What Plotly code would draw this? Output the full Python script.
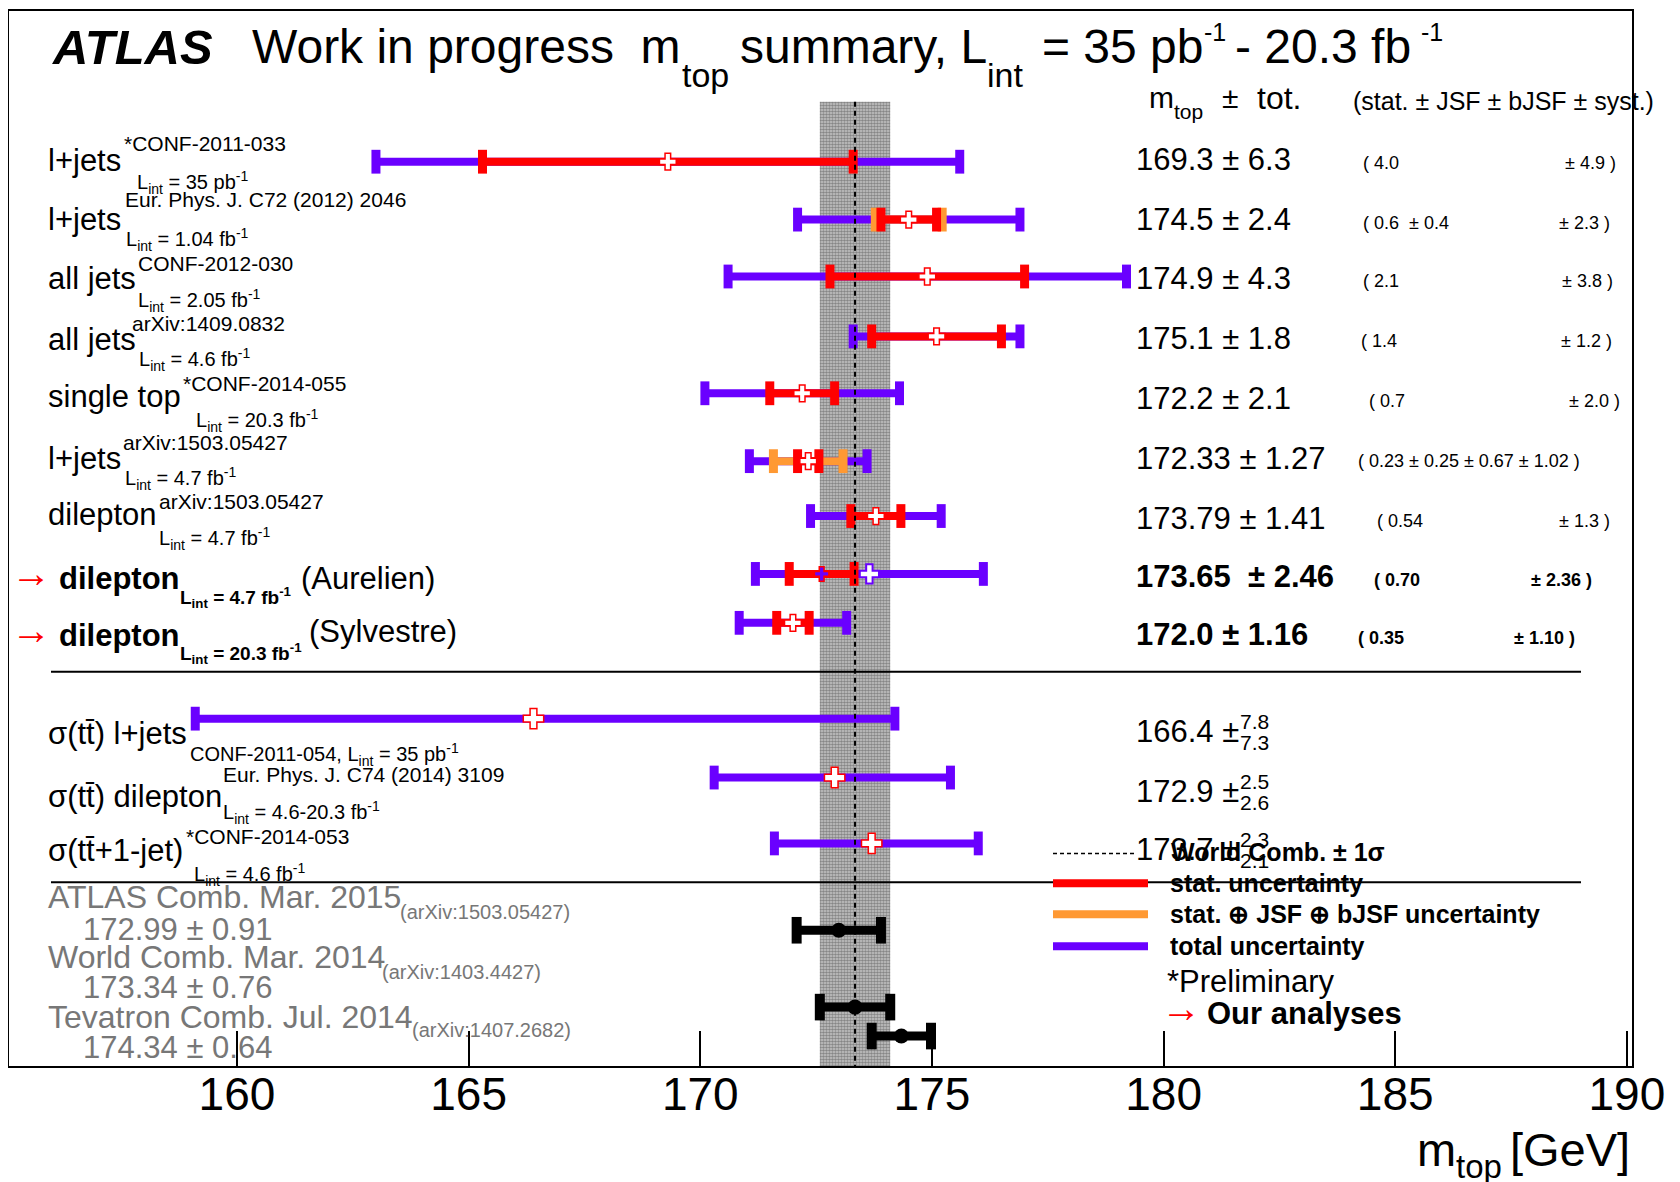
import math
import plotly.graph_objects as go

# ------------------------------------------------------------------ data
# individual top-mass measurements (GeV)
meas_label = ["l+jets", "l+jets", "all jets", "all jets", "single top",
              "l+jets", "dilepton", "dilepton", "dilepton"]
meas_ref = ["*CONF-2011-033", "Eur. Phys. J. C72 (2012) 2046", "CONF-2012-030",
            "arXiv:1409.0832", "*CONF-2014-055", "arXiv:1503.05427",
            "arXiv:1503.05427", "", ""]
meas_lumi = ["35 pb", "1.04 fb", "2.05 fb", "4.6 fb", "20.3 fb",
             "4.7 fb", "4.7 fb", "4.7 fb", "20.3 fb"]
meas_author = ["", "", "", "", "", "", "", "(Aurelien)", "(Sylvestre)"]
meas_ours = [False, False, False, False, False, False, False, True, True]
meas_mtop = [169.3, 174.5, 174.9, 175.1, 172.2, 172.33, 173.79, 173.65, 172.0]
meas_tot = [6.3, 2.4, 4.3, 1.8, 2.1, 1.27, 1.41, 2.46, 1.16]
meas_stat = [4.0, 0.6, 2.1, 1.4, 0.7, 0.23, 0.54, 0.70, 0.35]
meas_jsf = [None, 0.4, None, None, None, 0.25, None, None, None]
meas_bjsf = [None, None, None, None, None, 0.67, None, None, None]
meas_syst = [4.9, 2.3, 3.8, 1.2, 2.0, 1.02, 1.3, 2.36, 1.10]
# centre of the stat. bar as drawn in the original (row 8 is drawn off-centre)
meas_stat_centre = [169.3, 174.5, 174.9, 175.1, 172.2, 172.33, 173.79, 172.62, 172.0]
meas_value_text = ["169.3 ± 6.3", "174.5 ± 2.4", "174.9 ± 4.3", "175.1 ± 1.8",
                   "172.2 ± 2.1", "172.33 ± 1.27", "173.79 ± 1.41",
                   "173.65\u00a0 ± 2.46", "172.0 ± 1.16"]
meas_detail_left = ["( 4.0", "( 0.6\u00a0 ± 0.4", "( 2.1", "( 1.4", "( 0.7",
                    "( 0.23 ± 0.25 ± 0.67 ± 1.02 )", "( 0.54", "( 0.70", "( 0.35"]
meas_detail_right = ["± 4.9 )", "± 2.3 )", "± 3.8 )", "± 1.2 )", "± 2.0 )", "",
                     "± 1.3 )", "± 2.36 )", "± 1.10 )"]

# cross-section based extractions
xsec_label = ["σ(tt\u0304) l+jets", "σ(tt\u0304) dilepton", "σ(tt\u0304+1-jet)"]
xsec_ref = ["", "Eur. Phys. J. C74 (2014) 3109", "*CONF-2014-053"]
xsec_sub = ["CONF-2011-054, L<sub>int</sub> = 35 pb<sup>-1</sup>",
            "L<sub>int</sub> = 4.6-20.3 fb<sup>-1</sup>",
            "L<sub>int</sub> = 4.6 fb<sup>-1</sup>"]
xsec_mtop = [166.4, 172.9, 173.7]
xsec_up = [7.8, 2.5, 2.3]
xsec_dn = [7.3, 2.6, 2.1]

# combinations
comb_name = ["ATLAS Comb. Mar. 2015", "World Comb. Mar. 2014", "Tevatron Comb. Jul. 2014"]
comb_ref = ["(arXiv:1503.05427)", "(arXiv:1403.4427)", "(arXiv:1407.2682)"]
comb_mtop = [172.99, 173.34, 174.34]
comb_err = [0.91, 0.76, 0.64]
world_index = 1

x_ticks = [160, 165, 170, 175, 180, 185, 190]
x_tick_labels = ["160", "165", "170", "175", "180", "185", "190"]

# ------------------------------------------------------------------ layout
# All positions below are screen pixels of the 1680x1182 page; the page body
# has an 8 px margin, so the figure itself is shifted by OFF.
OFF = 8
W, H = 1680 - OFF, 1182 - OFF
PX0, PX1, PY0, PY1 = 9, 1632, 9, 1066
X_RANGE = [155.08, 190.11]
FONT = "Liberation Sans, Arial, Helvetica, sans-serif"

PURPLE = "#6a00ff"
RED = "#ff0000"
ORANGE = "#ff9933"
GREY_TXT = "#777777"

meas_row_y = [160, 218, 275, 335, 392, 460, 515, 573, 622]
meas_label_y = [159, 218, 277, 338, 395, 457, 513, 578, 635]
meas_sup_pos = [(123, 142), (124, 198), (137, 262), (131, 322), (182, 382),
                (122, 441), (158, 500), None, None]
meas_sub_pos = [(136, 181), (125, 238), (137, 299), (138, 358), (195, 419),
                (124, 477), (158, 537), (179, 597), (179, 653)]
meas_author_pos = [None] * 7 + [(300, 578), (308, 631)]
meas_value_y = [158, 218, 277, 337, 397, 457, 517, 576, 634]
meas_detail_left_x = [1362, 1362, 1362, 1360, 1368, 1357, 1376, 1373, 1357]
meas_detail_right_x = [1617, 1611, 1614, 1613, 1621, None, 1611, 1593, 1576]

xsec_row_y = [718, 777, 843]
xsec_label_y = [733, 796, 850]
xsec_sup_pos = [None, (222, 774), (185, 836)]
xsec_sub_pos = [(189, 754), (222, 812), (193, 874)]
xsec_value_y = [731, 791, 849]

comb_row_y = [930, 1007, 1036]
comb_name_y = [897, 957, 1017]
comb_ref_x = [399, 381, 411]
comb_ref_y = [912, 972, 1030]
comb_value_y = [929, 987, 1047]

sep_y = [671, 882]
band_top = 100


def px2paper_x(x):
    return (x - PX0) / (PX1 - PX0)


def px2paper_y(y):
    return (PY1 - y) / (PY1 - PY0)


annotations = []


def txt(x, y, s, size, color="black", anchor="left", bold=False, italic=False):
    if italic:
        s = "<i>" + s + "</i>"
    if bold:
        s = "<b>" + s + "</b>"
    annotations.append(dict(x=px2paper_x(x), xref="paper", y=px2paper_y(y), yref="paper",
                            text=s, showarrow=False, xanchor=anchor, yanchor="middle",
                            borderpad=0,
                            font=dict(family=FONT, size=size, color=color)))


fig = go.Figure()

# world combination band (+-1 sigma)
wm, we = comb_mtop[world_index], comb_err[world_index]
fig.add_trace(go.Scatter(
    x=[wm - we, wm + we, wm + we, wm - we, wm - we],
    y=[band_top, band_top, PY1, PY1, band_top],
    mode="lines", fill="toself", line=dict(width=0, color="rgba(0,0,0,0)"),
    fillcolor="rgba(0,0,0,0)",
    fillpattern=dict(shape=".", size=3, solidity=0.6, fgcolor="#444444", bgcolor="#c8c8c8"),
    hoverinfo="skip", showlegend=False))


def bars(centres, lo, hi, ys, color, width=8, cap=17, capw=9):
    xs, yy = [], []
    for c, l, h, y in zip(centres, lo, hi, ys):
        xs += [c - l, c + h, None]
        yy += [y, y, None]
    return go.Scatter(x=xs, y=yy, mode="lines+markers",
                      line=dict(color=color, width=width),
                      marker=dict(symbol="line-ns", size=cap, color=color,
                                  line=dict(color=color, width=capw)),
                      hoverinfo="skip", showlegend=False)


# total uncertainty (purple)
fig.add_trace(bars(meas_mtop + xsec_mtop, meas_tot + xsec_dn, meas_tot + xsec_up,
                   meas_row_y + xsec_row_y, PURPLE))

# stat + JSF + bJSF (orange)
oc, oe, oy = [], [], []
for i in range(len(meas_mtop)):
    if meas_jsf[i] is not None:
        comps = [meas_stat[i], meas_jsf[i]] + ([meas_bjsf[i]] if meas_bjsf[i] is not None else [])
        oc.append(meas_mtop[i])
        oe.append(math.sqrt(sum(v * v for v in comps)))
        oy.append(meas_row_y[i])
fig.add_trace(bars(oc, oe, oe, oy, ORANGE))

# stat (red)
fig.add_trace(bars(meas_stat_centre, meas_stat, meas_stat, meas_row_y, RED))

# markers
norm_x = [m for m, o in zip(meas_mtop, meas_ours) if not o] + [meas_mtop[8]]
norm_y = [y for y, o in zip(meas_row_y, meas_ours) if not o] + [meas_row_y[8]]
fig.add_trace(go.Scatter(x=norm_x, y=norm_y, mode="markers",
                         marker=dict(symbol="cross", size=14, color="white",
                                     line=dict(color=RED, width=1.5)),
                         hoverinfo="skip", showlegend=False))
fig.add_trace(go.Scatter(x=[meas_stat_centre[7]], y=[meas_row_y[7]], mode="markers",
                         marker=dict(symbol="cross", size=12, color=PURPLE,
                                     line=dict(color=RED, width=1.5)),
                         hoverinfo="skip", showlegend=False))
fig.add_trace(go.Scatter(x=[meas_mtop[7]], y=[meas_row_y[7]], mode="markers",
                         marker=dict(symbol="cross", size=16, color="white",
                                     line=dict(color=PURPLE, width=2)),
                         hoverinfo="skip", showlegend=False))
fig.add_trace(go.Scatter(x=xsec_mtop, y=xsec_row_y, mode="markers",
                         marker=dict(symbol="cross", size=17, color="white",
                                     line=dict(color=RED, width=1.5)),
                         hoverinfo="skip", showlegend=False))

# combinations (black)
fig.add_trace(bars(comb_mtop, comb_err, comb_err, comb_row_y, "black", width=9, cap=19, capw=10))
fig.add_trace(go.Scatter(x=comb_mtop, y=comb_row_y, mode="markers",
                         marker=dict(symbol="circle", size=15, color="black"),
                         hoverinfo="skip", showlegend=False))

# ------------------------------------------------------------------ shapes
shapes = []
shapes.append(dict(type="line", xref="x", yref="y", x0=wm, x1=wm, y0=band_top, y1=PY1,
                   line=dict(color="black", width=2, dash="5px,4px")))
for sy in sep_y:
    shapes.append(dict(type="line", xref="paper", yref="y", x0=px2paper_x(51), x1=px2paper_x(1581),
                       y0=sy, y1=sy, line=dict(color="black", width=2)))

# legend samples
leg_x0, leg_x1 = 1053, 1148
shapes.append(dict(type="line", xref="paper", yref="y", x0=px2paper_x(leg_x0), x1=px2paper_x(1134),
                   y0=853, y1=853, line=dict(color="black", width=1.5, dash="4px,3px")))
for ly, col in [(883, RED), (914, ORANGE), (946, PURPLE)]:
    shapes.append(dict(type="line", xref="paper", yref="y", x0=px2paper_x(leg_x0), x1=px2paper_x(leg_x1),
                       y0=ly, y1=ly, line=dict(color=col, width=8)))

# ------------------------------------------------------------------ texts
# title
txt(51, 45, "ATLAS", 49, bold=True, italic=True)
txt(251, 45, "Work in progress\u00a0 m", 48)
txt(681, 73, "top", 34)
txt(739, 45, "summary, L", 48)
txt(986, 73, "int", 34)
txt(1041, 45, "= 35 pb", 48)
txt(1203, 30, "-1", 25)
txt(1234, 45, "- 20.3 fb", 48)
txt(1420, 30, "-1", 25)

# column header
txt(1148, 96, "m", 30)
txt(1173, 110, "top", 21)
txt(1221, 96, "±", 30)
txt(1256, 96, "tot.", 32)
txt(1352, 99, "(stat. ± JSF ± bJSF ± syst.)", 25)

# measurement rows
for i in range(len(meas_mtop)):
    if meas_ours[i]:
        txt(10, meas_label_y[i] - 6, "→", 40, color=RED)
        txt(58, meas_label_y[i], meas_label[i], 31, bold=True)
        txt(meas_sub_pos[i][0], meas_sub_pos[i][1],
            "L<sub>int</sub> = " + meas_lumi[i] + "<sup>-1</sup>", 19, bold=True)
        txt(meas_author_pos[i][0], meas_author_pos[i][1], meas_author[i], 31)
    else:
        txt(47, meas_label_y[i], meas_label[i], 31)
        txt(meas_sup_pos[i][0], meas_sup_pos[i][1], meas_ref[i], 21)
        txt(meas_sub_pos[i][0], meas_sub_pos[i][1],
            "L<sub>int</sub> = " + meas_lumi[i] + "<sup>-1</sup>", 20)
    txt(1135, meas_value_y[i], meas_value_text[i], 31, bold=meas_ours[i])
    txt(meas_detail_left_x[i], meas_value_y[i] + 3, meas_detail_left[i], 18, bold=meas_ours[i])
    if meas_detail_right_x[i] is not None:
        txt(meas_detail_right_x[i], meas_value_y[i] + 3, meas_detail_right[i], 18,
            anchor="right", bold=meas_ours[i])

# cross-section rows
for i in range(len(xsec_mtop)):
    txt(47, xsec_label_y[i], xsec_label[i], 31)
    if xsec_sup_pos[i] is not None:
        txt(xsec_sup_pos[i][0], xsec_sup_pos[i][1], xsec_ref[i], 21)
    txt(xsec_sub_pos[i][0], xsec_sub_pos[i][1], xsec_sub[i], 20)
    txt(1135, xsec_value_y[i], f"{xsec_mtop[i]:.1f} ±", 31)
    txt(1239, xsec_value_y[i] - 10, f"{xsec_up[i]:.1f}", 21)
    txt(1239, xsec_value_y[i] + 11, f"{xsec_dn[i]:.1f}", 21)

# combinations
for i in range(len(comb_mtop)):
    txt(47, comb_name_y[i], comb_name[i], 32, color=GREY_TXT)
    txt(comb_ref_x[i], comb_ref_y[i], comb_ref[i], 20, color=GREY_TXT)
    txt(82, comb_value_y[i], f"{comb_mtop[i]:.2f} ± {comb_err[i]:.2f}", 31, color=GREY_TXT)

# legend texts
txt(1170, 852, "World Comb. ± 1σ", 25, bold=True)
txt(1169, 883, "stat. uncertainty", 25, bold=True)
txt(1169, 914, "stat. ⊕ JSF ⊕ bJSF uncertainty", 25, bold=True)
txt(1169, 946, "total uncertainty", 25, bold=True)
txt(1166, 981, "*Preliminary", 31)
txt(1160, 1008, "→", 40, color=RED)
txt(1206, 1013, "Our analyses", 31, bold=True)

# x-axis title
txt(1416, 1150, "m", 47)
txt(1455, 1167, "top", 33)
txt(1509, 1150, "[GeV]", 47)

fig.update_layout(
    width=W, height=H,
    margin=dict(l=PX0 - OFF, r=W - (PX1 - OFF), t=PY0 - OFF, b=H - (PY1 - OFF), pad=0),
    paper_bgcolor="white", plot_bgcolor="white",
    showlegend=False,
    xaxis=dict(range=X_RANGE, tickvals=x_ticks, ticktext=x_tick_labels,
               ticks="inside", ticklen=35, tickwidth=1.5, tickcolor="black",
               ticklabelstandoff=-13,
               showline=True, linecolor="black", linewidth=2, mirror=True,
               showgrid=False, zeroline=False,
               tickfont=dict(family=FONT, size=46, color="black")),
    yaxis=dict(range=[PY1, PY0], showticklabels=False, ticks="",
               showline=True, linecolor="black", linewidth=2, mirror=True,
               showgrid=False, zeroline=False),
    shapes=shapes,
    annotations=annotations,
)

fig.write_html("out.html")
